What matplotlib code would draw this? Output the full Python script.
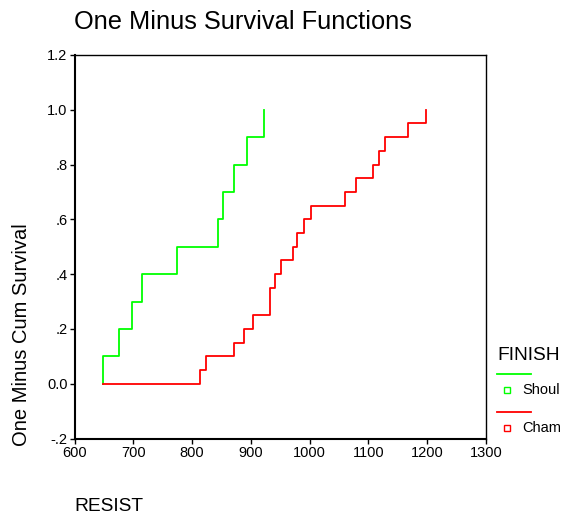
import matplotlib
matplotlib.use('Agg')

import matplotlib.pyplot as plt

plt.rcParams['font.family'] = ['Liberation Sans', 'DejaVu Sans']

# data
group_names = ['Shoulder', 'Chamfer']
group_colors = ['#00ff00', '#ff0000']

shoulder_resist = [648, 648, 676, 698, 715, 775, 844, 852, 872, 894, 922]
shoulder_one_minus = [0.0, 0.1, 0.2, 0.3, 0.4, 0.5, 0.6, 0.7, 0.8, 0.9, 1.0]

chamfer_resist = [648, 813, 824, 872, 889, 903, 932, 941, 952, 971,
                  979, 991, 1002, 1060, 1079, 1107, 1118, 1129, 1168, 1198]
chamfer_one_minus = [0.0, 0.05, 0.10, 0.15, 0.20, 0.25, 0.35, 0.40, 0.45, 0.50,
                     0.55, 0.60, 0.65, 0.70, 0.75, 0.80, 0.85, 0.90, 0.95, 1.00]

x_ticks = [600, 700, 800, 900, 1000, 1100, 1200, 1300]
y_ticks = [-0.2, 0.0, 0.2, 0.4, 0.6, 0.8, 1.0, 1.2]
y_tick_labels = ['-.2', '0.0', '.2', '.4', '.6', '.8', '1.0', '1.2']

W, H = 568, 515


def fx(px):
    return px / W


def fy(py):
    return 1 - py / H


fig = plt.figure(figsize=(W / 100, H / 100), dpi=100)
ax = fig.add_axes([fx(74.5), fy(438.5), fx(486 - 74.5), (438.5 - 55) / H])

series = [(shoulder_resist, shoulder_one_minus), (chamfer_resist, chamfer_one_minus)]
for (xs, ys), col in zip(series, group_colors):
    ax.plot(xs, ys, drawstyle='steps-post', color=col, lw=1.3)

ax.set_xlim(600, 1300)
ax.set_ylim(-0.2, 1.2)
ax.set_xticks(x_ticks)
ax.set_yticks(y_ticks)
ax.set_yticklabels(y_tick_labels)
ax.tick_params(direction='out', length=3.6, width=1, pad=1.5, labelsize=10.5,
               top=False, right=False)
for side in ['left', 'bottom']:
    ax.spines[side].set_linewidth(1.5)
for side in ['top', 'right']:
    ax.spines[side].set_linewidth(1.0)

fig.text(fx(74), fy(29.3), 'One Minus Survival Functions', fontsize=18.3,
         ha='left', va='baseline')
fig.text(fx(22), fy(335), 'One Minus Cum Survival', fontsize=14.5,
         rotation=90, ha='center', va='center')
fig.text(fx(74), fy(510.7), 'RESIST', fontsize=13.8, ha='left', va='baseline')

# legend in SPSS style: title, then a line row and a marker row per group,
# clipped to its own box like the original
lax = fig.add_axes([fx(490), fy(445), fx(560 - 490), (445 - 335) / H])
lax.set_xlim(490, 560)
lax.set_ylim(445, 335)
lax.axis('off')
lax.text(497, 360, 'FINISH', fontsize=13.8, ha='left', va='baseline', clip_on=True)
row_y = [374.3, 412.3]
for name, col, ly in zip(group_names, group_colors, row_y):
    lax.plot([497, 531], [ly, ly], color=col, lw=1.3)
    lax.plot([507.3], [ly + 15.4], marker='s', markersize=4,
             markerfacecolor='white', markeredgecolor=col, mew=1, linestyle='none')
    lax.text(522, ly + 15.4, name, fontsize=10.5, ha='left', va='center', clip_on=True)

fig.savefig('out.png', dpi=100)
